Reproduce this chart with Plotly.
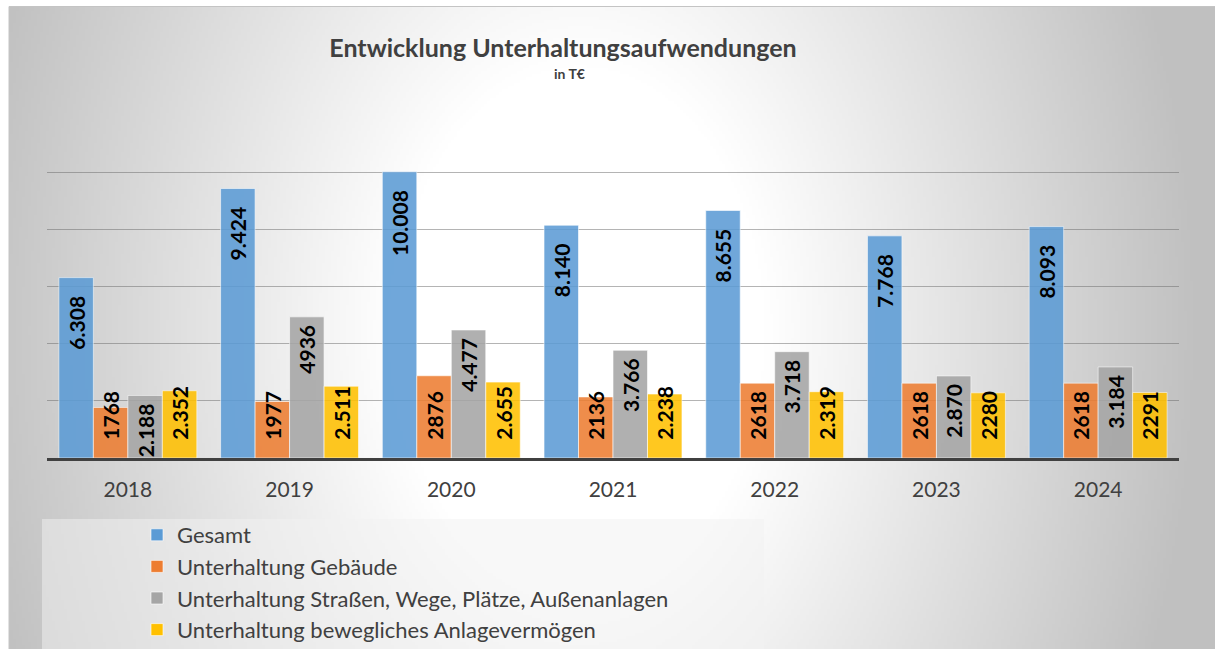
import numpy as np, zlib, struct, base64
import plotly.graph_objects as go

years = ["2018", "2019", "2020", "2021", "2022", "2023", "2024"]
series_names = ["Gesamt", "Unterhaltung Gebäude",
                "Unterhaltung Straßen, Wege, Plätze, Außenanlagen",
                "Unterhaltung bewegliches Anlagevermögen"]
gesamt = [6308, 9424, 10008, 8140, 8655, 7768, 8093]
gebaeude = [1768, 1977, 2876, 2136, 2618, 2618, 2618]
strassen = [2188, 4936, 4477, 3766, 3718, 2870, 3184]
beweglich = [2352, 2511, 2655, 2238, 2319, 2280, 2291]
gesamt_lbl = ["6.308", "9.424", "10.008", "8.140", "8.655", "7.768", "8.093"]
gebaeude_lbl = ["1768", "1977", "2876", "2136", "2618", "2618", "2618"]
strassen_lbl = ["2.188", "4936", "4.477", "3.766", "3.718", "2.870", "3.184"]
beweglich_lbl = ["2.352", "2.511", "2.655", "2.238", "2.319", "2280", "2291"]
colors = ["#5B9BD5", "#ED7D31", "#A5A5A5", "#FFC000"]

NB = "\u00a0"
# label anchoring per series (Excel "inside end", kept clear of the base for short bars)
anchors = ["end", "start", "end", "start"]
templates = ["%{text}" + NB * 3, NB * 3 + "%{text}", "%{text}" + NB, NB * 3 + "%{text}"]

FW, FH = 1215, 649

# ---- background radial gradient image (screen pixels) ----
S = 3
x0s, y0s = 9, 6
W, H = FW - x0s, FH - y0s
w, h = W // S, H // S
xs = (np.arange(w) + 0.5) * S + x0s
ys = (np.arange(h) + 0.5) * S + y0s
X, Y = np.meshgrid(xs, ys)
d = np.sqrt((X - 580) ** 2 + ((Y - 330) * 0.7) ** 2)
c = np.clip(255 - 0.145 * (d - 186), 192, 255).astype(np.uint8)
raw = b"".join(b"\x00" + bytes(np.repeat(row[:, None], 3, axis=1).ravel()) for row in c)

def chunk(t, data):
    return struct.pack(">I", len(data)) + t + data + struct.pack(">I", zlib.crc32(t + data) & 0xffffffff)

png = b"\x89PNG\r\n\x1a\n" + chunk(b"IHDR", struct.pack(">IIBBBBB", w, h, 8, 2, 0, 0, 0)) \
    + chunk(b"IDAT", zlib.compress(raw, 9)) + chunk(b"IEND", b"")
img_uri = "data:image/png;base64," + base64.b64encode(png).decode()

# plot area in screen pixels
PL, PR, PT, PB = 47, 1179, 114, 458
PW, PH = PR - PL, PB - PT
def px(v):
    return (v - PL) / PW
def py(v):
    return (PB - v) / PH

fig = go.Figure()
for name, vals, lbls, col, anc, tpl in zip(series_names, [gesamt, gebaeude, strassen, beweglich],
                                           [gesamt_lbl, gebaeude_lbl, strassen_lbl, beweglich_lbl],
                                           colors, anchors, templates):
    fig.add_trace(go.Bar(
        x=years, y=vals, name=name, text=lbls, texttemplate=tpl, legendgroup=name,
        marker=dict(color=col, opacity=0.87, line=dict(color="rgba(255,255,255,0.6)", width=1)),
        textposition="inside", insidetextanchor=anc, textangle=-90,
        textfont=dict(family="Lato", size=21, color="black", weight="bold"),
        hoverinfo="skip",
    ))

fig.update_layout(
    width=FW, height=FH, autosize=False,
    margin=dict(l=PL, r=FW - PR, t=PT, b=FH - PB, autoexpand=False),
    paper_bgcolor="white", plot_bgcolor="rgba(0,0,0,0)",
    barmode="group", bargap=0.147, bargroupgap=0,
    uniformtext=dict(minsize=21, mode="show"),
    font=dict(family="Lato", color="#404040"),
    title=dict(text="<b>Entwicklung Unterhaltungsaufwendungen</b>",
               x=563 / FW, xref="container", xanchor="center",
               y=1 - 48 / FH, yref="container", yanchor="middle",
               font=dict(family="Lato", size=25, color="#404040")),
    annotations=[dict(text="<b>in T€</b>", xref="paper", yref="paper",
                      x=px(569), y=py(73), xanchor="center", yanchor="middle",
                      showarrow=False, font=dict(family="Lato", size=14, color="#404040"))],
    xaxis=dict(type="category", showline=True, linecolor="#404040", linewidth=3,
               ticks="", tickfont=dict(family="Lato", size=21, color="#404040"),
               ticklabelstandoff=11, showgrid=False, fixedrange=True),
    yaxis=dict(range=[0, 12030], dtick=2000, showticklabels=False,
               gridcolor="rgba(105,105,105,0.5)", gridwidth=1, zeroline=False,
               fixedrange=True),
    legend=dict(orientation="v", xref="container", yref="container",
                x=137 / FW, y=1 - 514 / FH, xanchor="left", yanchor="top",
                bgcolor="rgba(0,0,0,0)", font=dict(family="Lato", size=22, color="#404040"),
                traceorder="normal", tracegroupgap=14, itemwidth=30),
    showlegend=True,
    images=[dict(source=img_uri, xref="paper", yref="paper",
                 x=px(x0s), y=py(y0s), sizex=W / PW, sizey=H / PH,
                 xanchor="left", yanchor="top", sizing="stretch", layer="below")],
    shapes=[
        dict(type="rect", xref="paper", yref="paper", x0=px(42), x1=px(764),
             y0=py(519), y1=py(680), line=dict(width=0),
             fillcolor="rgba(242,242,242,0.5)", layer="below"),
        dict(type="rect", xref="paper", yref="paper", x0=px(9), x1=px(1240),
             y0=py(6.5), y1=py(680), line=dict(width=1, color="#c4c4c4"),
             fillcolor="rgba(0,0,0,0)", layer="below"),
    ],
)

fig.write_html("out.html", config={"displayModeBar": False},
               post_script="document.body.style.margin='0';document.body.style.overflow='hidden';")
